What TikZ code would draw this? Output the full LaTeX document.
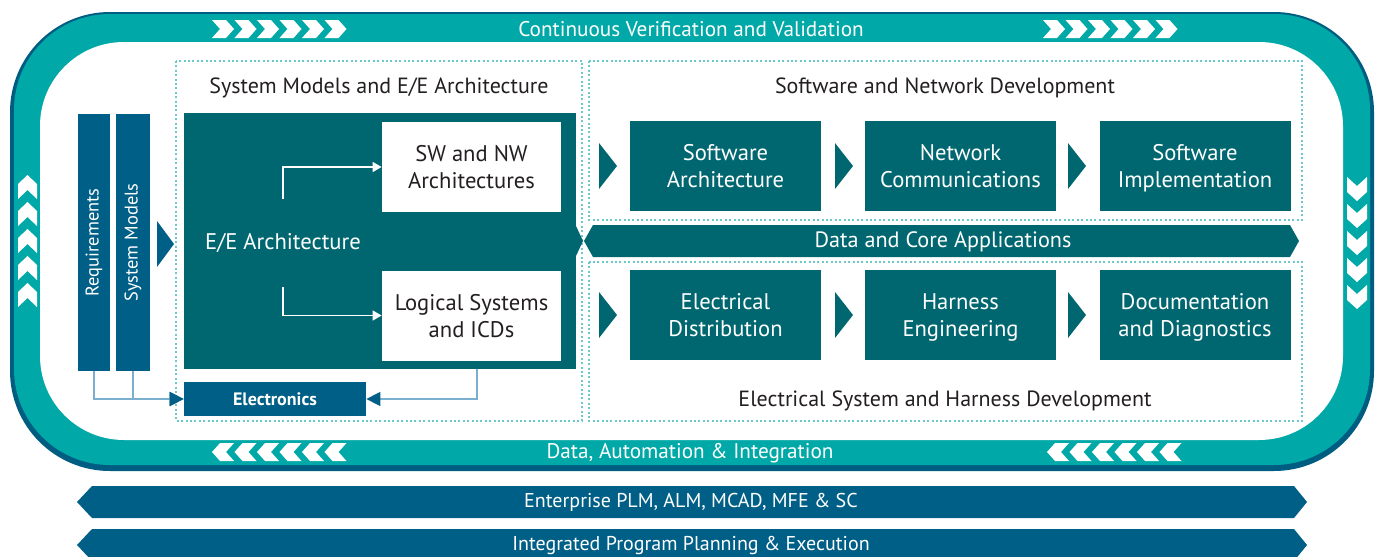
\documentclass[tikz,border=0pt]{standalone}
\usepackage{fontspec}
\setmainfont{PT Sans}
\usepackage{graphicx}
\usetikzlibrary{arrows.meta}

\definecolor{ringteal}{RGB}{0,169,167}
\definecolor{ringdark}{RGB}{0,93,130}
\definecolor{eblue}{RGB}{0,95,134}
\definecolor{eteal}{RGB}{0,103,112}
\definecolor{dotteal}{RGB}{108,201,203}
\definecolor{feedblue}{RGB}{122,175,208}
\definecolor{textdark}{RGB}{35,31,32}

\begin{document}
\begin{tikzpicture}[x=0.5pt,y=-0.5pt,
  every node/.style={inner sep=0pt},
  proc/.style={fill=eteal,text=white,minimum width=95.5pt,minimum height=45pt,text depth=0pt,
    align=center,font=\fontsize{11.3}{13.5}\selectfont},
  wbox/.style={fill=white,text=textdark,minimum width=89.5pt,minimum height=45pt,text depth=0pt,
    align=center,font=\fontsize{11.3}{13.5}\selectfont},
  bar/.style={fill=eblue,text=white,minimum height=128.5pt,font=\fontsize{9.2}{10}\selectfont},
  title/.style={text=textdark,font=\fontsize{11}{12}\selectfont},
  ringtext/.style={text=white,font=\fontsize{10.6}{12}\selectfont},
  bandtext/.style={text=white,font=\fontsize{10}{12}\selectfont},
  dotbox/.style={draw=dotteal,line width=1pt,dash pattern=on 1pt off 1.2pt},
  feed/.style={draw=feedblue,line width=0.8pt,-{Triangle[length=7pt,width=7pt,color=eblue]}},
  inarrow/.style={draw=white,line width=0.8pt,-{Triangle[length=4.5pt,width=5pt]}}]

\useasboundingbox (0,0) rectangle (1377,557);
\clip (0,0) rectangle (1377,557);

% The outer ring
\fill[ringdark,rounded corners=50pt] (10,12) rectangle (1374,471);
\fill[ringteal,rounded corners=48pt] (14,14) rectangle (1370,465);
\fill[white,rounded corners=42pt] (40,42) rectangle (1343,440);

% Chevrons on the ring
\foreach \x in {212,1043} \foreach \i in {0,...,5}
  \fill[white] (\x+22.5*\i,20) -- ++(14,0) -- ++(8,9) -- ++(-8,9) -- ++(-14,0) -- ++(8,-9) -- cycle;
\foreach \x in {212,1047} \foreach \i in {0,...,5}
  \fill[white] (\x+22.5*\i,452) -- ++(8,-9) -- ++(14,0) -- ++(-8,9) -- ++(8,9) -- ++(-14,0) -- cycle;
\foreach \i in {0,...,4}
  \fill[white] (27.5,175+27*\i) -- ++(9.5,9) -- ++(0,15) -- ++(-9.5,-9) -- ++(-9.5,9) -- ++(0,-15) -- cycle;
\foreach \i in {0,...,4}
  \fill[white] (1347,177+27*\i) -- ++(10,9) -- ++(10,-9) -- ++(0,15) -- ++(-10,9) -- ++(-10,-9) -- cycle;

\node[ringtext] (cvv) at (691,29) {Continuous Verification and Validation};
\node[ringtext] (dai) at (690,453) {Data, Automation \& Integration};

% Groups
\draw[dotbox] (176,61) rectangle (582,421);
\draw[dotbox] (589,61) rectangle (1302,220);
\draw[dotbox] (589,262) rectangle (1302,421);
\node[title] (tsys) at (379,88) {System Models and E/E Architecture};
\node[title] (tsw) at (945,88) {Software and Network Development};
\node[title] (tel) at (945,401) {Electrical System and Harness Development};

% Requirements and system models
\node[bar,minimum width=16pt] (req) at (94,242.5) {\rotatebox{90}{Requirements}};
\node[bar,minimum width=17pt] (sysm) at (133,242.5) {\rotatebox{90}{System Models}};
\fill[eblue] (157,221) -- (174,244) -- (157,267) -- cycle;

% E/E architecture
\node[fill=eteal,minimum width=196pt,minimum height=128pt] (eeb) at (380,241) {};
\fill[eteal] (576,226) -- (583,241) -- (576,256) -- cycle;
\node[text=white,font=\fontsize{11.3}{12}\selectfont] (ee) at (283,243) {E/E Architecture};
\node[wbox] (swnw) at (471.5,167) {SW and NW\\Architectures};
\node[wbox] (lsys) at (471.5,315.5) {Logical Systems\\and ICDs};
\coordinate (eeup) at (283,199);
\coordinate (eedown) at (283,287);
\draw[inarrow] (eeup) |- (swnw.west);
\draw[inarrow] (eedown) |- (lsys.west);

% Electronics
\node[fill=eblue,text=white,minimum width=91pt,minimum height=17pt,
  font=\bfseries\fontsize{9}{10}\selectfont] (elec) at (275,399) {Electronics};
\coordinate (eeout) at (477,369);
\draw[feed] (req.south) |- (elec.west);
\draw[feed] (sysm.south) |- (elec.west);
\draw[feed] (eeout) |- (elec.east);

% Development steps
\node[proc] (swa) at (725.5,166) {Software\\Architecture};
\node[proc] (nwc) at (960.5,166) {Network\\Communications};
\node[proc] (swi) at (1195,166) {Software\\Implementation};
\node[proc] (eld) at (725.5,315) {Electrical\\Distribution};
\node[proc] (hne) at (960.5,315) {Harness\\Engineering};
\node[proc] (dnd) at (1195,315) {Documentation\\and Diagnostics};
\foreach \x in {599,835,1068} \foreach \y in {166,315}
  \fill[eteal] (\x,\y-23) -- ++(18,23) -- ++(-18,23) -- cycle;

% Data band
\fill[eteal] (584,241) -- (593,225) -- (1290,225) -- (1299,241) -- (1290,257) -- (593,257) -- cycle;
\node[text=white,font=\fontsize{11.1}{12}\selectfont] (dca) at (943,242) {Data and Core Applications};

% Enterprise bands
\foreach \y in {502,545}
  \fill[eblue] (77,\y) -- ++(15,-16) -- (1294,\y-16) -- ++(13,16) -- ++(-13,16) -- (92,\y+16) -- cycle;
\node[bandtext] (plm) at (691,502) {Enterprise PLM, ALM, MCAD, MFE \& SC};
\node[bandtext] (ipp) at (691,545) {Integrated Program Planning \& Execution};

\end{tikzpicture}
\end{document}
